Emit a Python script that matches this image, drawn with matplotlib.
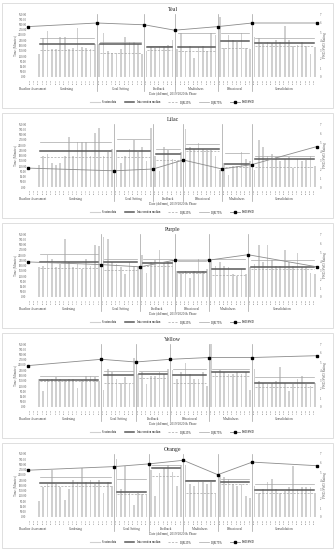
import numpy as np
import pandas as pd
import matplotlib
matplotlib.use("Agg")
import matplotlib.pyplot as plt
from matplotlib.patches import Rectangle
from matplotlib.lines import Line2D

plt.rcParams['font.family'] = ['Liberation Serif', 'DejaVu Serif']

# ---- data (approximate) ----
phases_a = ["Baseline Assessment", "Gardening", "Goal Setting", "Feedback",
            "Mindfulness", "Behavioural", "Consolidation"]
phases_b = ["Baseline Assessment", "Gardening", "Goal Setting", "Feedback",
            "Behavioural", "Mindfulness", "Consolidation"]

teal_sizes = [2, 14, 11, 7, 10, 8, 15]
teal_sessions = [0, 0,
                 130, 220, 260, 160, 160, 230, 230, 160, 165, 280, 170, 165, 160, 190,
                 190, 250, 150, 140, 140, 160, 230, 200, 200, 190, 130,
                 150, 170, 165, 180, 175, 185, 210,
                 160, 250, 150, 175, 110, 170, 180, 150, 250, 240,
                 340, 165, 240, 210, 200, 250, 165, 160,
                 230, 220, 190, 200, 195, 210, 200, 290, 210, 180, 185, 200, 180, 130, 170]
teal_median = [190, 190, 170, 170, 204, 196]
teal_q1 = [156, 140, 155, 150, 164, 180]
teal_q3 = [224, 200, 180, 250, 250, 220]
teal_pwd = [5.6, 6.0, 5.8, 5.2, 5.6, 6.0, 6.0]

lilac_sizes = [2, 18, 9, 7, 9, 7, 15]
lilac_sessions = [0, 0,
                  126, 176, 190, 136, 126, 136, 180, 286, 176, 256, 256, 256, 176, 306, 336, 176, 200, 216,
                  200, 140, 180, 216, 270, 200, 230, 150, 340,
                  180, 90, 230, 210, 160, 150, 200,
                  330, 230, 220, 250, 220, 210, 210, 175, 100,
                  140, 70, 120, 120, 200, 160, 150,
                  100, 270, 230, 180, 190, 170, 150, 160, 170, 110, 160, 150, 155, 180, 120]
lilac_median = [206, 206, 186, 220, 130, 160]
lilac_q1 = [170, 170, 156, 206, 116, 112]
lilac_q3 = [256, 272, 216, 246, 192, 176]
lilac_pwd = [2.1, 1.8, 2.0, 3.0, 2.0, 2.5, 4.5]

purple_sizes = [2, 15, 9, 8, 8, 9, 16]
purple_sessions = [0, 0,
                   170, 180, 240, 220, 170, 190, 330, 200, 170, 190, 160, 220, 180, 300, 290,
                   345, 330, 200, 190, 170, 130, 200, 180, 170,
                   240, 140, 200, 210, 270, 200, 200, 210,
                   150, 140, 150, 110, 150, 220, 150, 160,
                   210, 180, 200, 180, 170, 130, 120, 160, 130,
                   170, 190, 300, 200, 300, 210, 180, 180, 270, 200, 180, 250, 170, 170, 140, 130]
purple_median = [200, 200, 196, 142, 162, 172]
purple_q1 = [166, 152, 176, 136, 126, 160]
purple_q3 = [246, 220, 220, 206, 216, 212]
purple_pwd = [3.9, 3.6, 3.35, 4.1, 4.1, 4.7, 3.35]

yellow_sizes = [2, 15, 8, 8, 9, 10, 15]
yellow_sessions = [0, 0,
                   160, 90, 160, 160, 170, 160, 155, 160, 160, 110, 155, 180, 180, 170, 150,
                   100, 220, 200, 160, 140, 170, 130, 280,
                   190, 200, 130, 180, 180, 200, 190, 220,
                   210, 160, 200, 250, 190, 160, 160, 200, 120,
                   360, 200, 210, 200, 190, 190, 200, 190, 200, 100,
                   220, 150, 140, 130, 140, 150, 230, 140, 90, 130, 160, 180, 130, 120, 140]
yellow_median = [156, 182, 186, 182, 200, 136]
yellow_q1 = [146, 136, 166, 136, 180, 116]
yellow_q3 = [176, 206, 206, 220, 220, 172]
yellow_pwd = [4.6, 5.3, 5.0, 5.3, 5.5, 5.5, 5.7]

orange_sizes = [2, 18, 8, 8, 8, 8, 15]
orange_sessions = [0, 0,
                   90, 170, 190, 270, 190, 170, 100, 160, 210, 200, 280, 200, 210, 190, 210, 140, 200, 180,
                   330, 160, 290, 140, 70, 140, 130, 130,
                   270, 120, 250, 280, 300, 260, 180, 300,
                   300, 190, 180, 200, 200, 190, 200, 140,
                   240, 230, 220, 190, 180, 190, 120, 110,
                   180, 140, 160, 200, 220, 160, 140, 150, 170, 290, 160, 170, 170, 170, 140]
orange_median = [196, 142, 280, 206, 202, 152]
orange_q1 = [176, 132, 236, 140, 186, 136]
orange_q3 = [226, 216, 296, 212, 216, 186]
orange_pwd = [5.2, 5.6, 5.9, 6.3, 4.7, 6.1, 5.7]

start_dates = ["2019-10-14", "2019-10-07", "2019-10-09", "2019-10-08", "2019-10-10"]

panels = [
    ("Teal", phases_a, teal_sizes, teal_sessions, teal_median, teal_q1, teal_q3, teal_pwd),
    ("Lilac", phases_b, lilac_sizes, lilac_sessions, lilac_median, lilac_q1, lilac_q3, lilac_pwd),
    ("Purple", phases_b, purple_sizes, purple_sessions, purple_median, purple_q1, purple_q3, purple_pwd),
    ("Yellow", phases_b, yellow_sizes, yellow_sessions, yellow_median, yellow_q1, yellow_q3, yellow_pwd),
    ("Orange", phases_a, orange_sizes, orange_sessions, orange_median, orange_q1, orange_q3, orange_pwd),
]

W, H = 336, 550
fig = plt.figure(figsize=(W / 100, H / 100), dpi=100)
fig.patch.set_facecolor("white")

bar_c = "#d0d0d0"
med_c = "#595959"
iqr_c = "#a6a6a6"
pwd_c = "#8c8c8c"
sep_c = "#a0a0a0"

for i, (name, phases, sizes, sessions, med, q1, q3, pwd) in enumerate(panels):
    top = i * 110
    # panel frame
    fig.add_artist(Rectangle((2 / W, 1 - (top + 108) / H), 331 / W, 105 / H,
                             transform=fig.transFigure, facecolor="white",
                             edgecolor="#d9d9d9", lw=0.6, zorder=0))
    ax = fig.add_axes([28 / W, 1 - (top + 77) / H, 289 / W, 63 / H])
    ax2 = ax.twinx()
    n = len(sessions)
    x = np.arange(n)
    ax.bar(x, sessions, width=0.4, color=bar_c, zorder=1)
    ax.set_xlim(-0.5, n - 0.5)
    ax.set_ylim(0, 360)
    ax.set_yticks(np.arange(0, 361, 30))
    ax.set_yticklabels([f"{v:.2f}" for v in np.arange(0, 361, 30)], fontsize=2.2, color="#595959")
    ax.set_ylabel("Time (Minutes)", fontsize=2.4, color="#595959", labelpad=1)

    dates = pd.date_range(start_dates[i], periods=n, freq="3D").strftime("%d/%m")
    ax.set_xticks(x)
    ax.set_xticklabels(dates, rotation=90, fontsize=1.6, color="#595959")
    ax.tick_params(length=0, pad=1)
    for s in ax.spines.values():
        s.set_visible(False)

    bounds = np.concatenate([[0], np.cumsum(sizes)]) - 0.5
    for k in range(1, len(sizes)):
        a, b = bounds[k], bounds[k + 1]
        ax.plot([a + 0.7, b - 0.7], [q3[k - 1]] * 2, color=iqr_c, lw=0.5, zorder=3)
        ax.plot([a + 0.7, b - 0.7], [q1[k - 1]] * 2, color=iqr_c, lw=0.5, ls=(0, (3, 2)), zorder=3)
        ax.plot([a + 0.7, b - 0.7], [med[k - 1]] * 2, color=med_c, lw=1.1, zorder=4)
        if k >= 2:
            ax.plot([a, a], [1.0, -0.22], transform=ax.get_xaxis_transform(),
                    color=sep_c, lw=0.5, clip_on=False, zorder=2)
    for k, ph in enumerate(phases):
        ax.text((bounds[k] + bounds[k + 1]) / 2, -0.19, ph, transform=ax.get_xaxis_transform(),
                ha="center", va="center", fontsize=2.3, color="#404040")
    ax.text(0.5, -0.27, "Date (dd/mm), 2019/2020 & Phase", transform=ax.transAxes,
            ha="center", va="center", fontsize=2.4, color="#404040")

    pwd_x = np.delete(bounds, 1)
    ax2.plot(pwd_x, pwd, color=pwd_c, lw=0.6, marker="s", ms=1.6,
             mfc="black", mec="black", zorder=5, clip_on=False)
    ax2.set_ylim(0, 7)
    ax2.set_yticks(range(0, 8))
    ax2.set_yticklabels([str(v) for v in range(0, 8)], fontsize=2.2, color="#595959")
    ax2.set_ylabel("PWD/SWD Rating", fontsize=2.4, color="#595959", labelpad=1)
    ax2.tick_params(length=0, pad=2)
    for s in ax2.spines.values():
        s.set_visible(False)

    ax.set_title(name, fontsize=4.2, pad=2, color="#262626")

    handles = [
        Line2D([], [], color=bar_c, lw=0.8),
        Line2D([], [], color=med_c, lw=1.1),
        Line2D([], [], color=iqr_c, lw=0.5, ls=(0, (3, 2))),
        Line2D([], [], color=iqr_c, lw=0.5),
        Line2D([], [], color=pwd_c, lw=0.6, marker="s", ms=1.6, mfc="black", mec="black"),
    ]
    labels = ["Session data", "Intervention median", "IQR 25%", "IQR 75%", "PWD/SWD"]
    ax.legend(handles, labels, loc="center", bbox_to_anchor=(0.5, -0.4), ncol=5,
              fontsize=2.0, frameon=False, handlelength=3.5, columnspacing=3)

fig.savefig("out.png", dpi=100, facecolor="white")
